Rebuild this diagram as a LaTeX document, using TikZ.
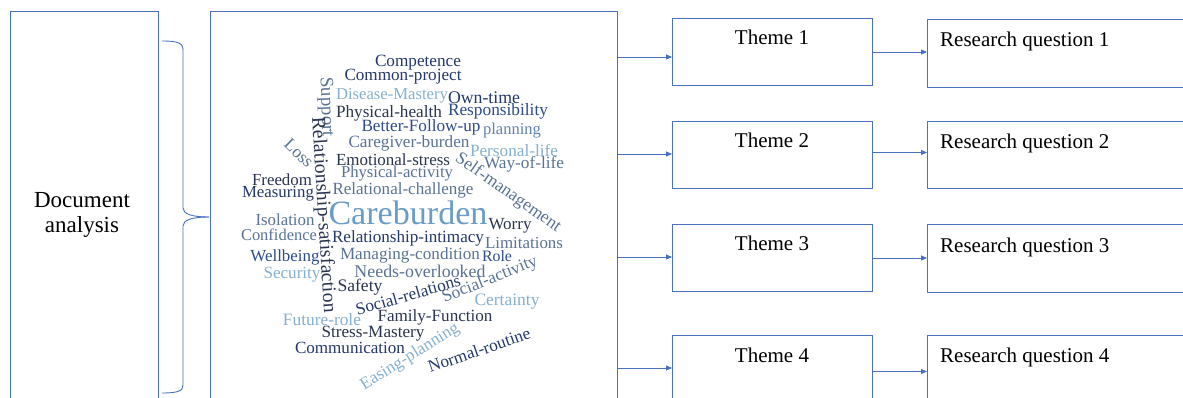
\documentclass[tikz,border=0pt]{standalone}
\usepackage{fontspec}
\setmainfont{Liberation Serif}
\usepackage{graphicx}
\usetikzlibrary{arrows.meta}
\definecolor{bl}{HTML}{4A70C0}
\definecolor{cN}{HTML}{24386A}
\definecolor{cD}{HTML}{2A3550}
\definecolor{cB}{HTML}{2E4B8A}
\definecolor{cM}{HTML}{5A7395}
\definecolor{cMM}{HTML}{6282AD}
\definecolor{cL}{HTML}{86B0D0}
\definecolor{cC}{HTML}{6A9CC6}
\tikzset{
  box/.style={draw=bl, line width=0.9pt, rectangle, inner sep=0pt, outer sep=0pt},
  arr/.style={draw=bl, line width=0.9pt, -{Triangle[length=6pt,width=5pt]}},
  brc/.style={draw=bl, line width=0.9pt},
  lab/.style={font=\fontsize{21}{25}\selectfont, text=black, inner sep=0pt},
  wc/.style={inner sep=0pt, font=\fontsize{17}{20}\selectfont}
}
\newcommand\cw[6]{\node[wc,text=#4,rotate=#3] (#1) at (#2) {\resizebox{#5pt}{!}{#6}};}
\begin{document}
\begin{tikzpicture}[x=1pt,y=-1pt]
\clip (0,0) rectangle (1183,398);
\fill[white] (0,0) rectangle (1183,398);
% left box
\node[box, minimum width=148pt, minimum height=420pt, anchor=north west] (doc) at (10,11) {};
\node[font=\fontsize{23}{25}\selectfont, align=center, inner sep=0pt] (doctxt) at (82,215) {Document\\analysis};
% brace
\coordinate (bt) at (162,41);
\coordinate (bb) at (162,393);
\coordinate (btip) at (209,217);
\draw[brc] (bt) .. controls (178,41) and (183,43) .. (183,50) -- (183,208) .. controls (183,214) and (192,217) .. (btip);
\draw[brc] (btip) .. controls (192,217) and (183,220) .. (183,226) -- (183,385) .. controls (183,391) and (178,393) .. (bb);
% cloud box
\node[box, minimum width=407pt, minimum height=420pt, anchor=north west] (cloud) at (210,11) {};
% theme boxes
\node[box, minimum width=200pt, minimum height=67pt, anchor=north west] (t1) at (672,18) {};
\node[box, minimum width=200pt, minimum height=67pt, anchor=north west] (t2) at (672,121) {};
\node[box, minimum width=200pt, minimum height=67pt, anchor=north west] (t3) at (672,224) {};
\node[box, minimum width=200pt, minimum height=67pt, anchor=north west] (t4) at (672,335) {};
\node[box, minimum width=280pt, minimum height=67.5pt, anchor=north west] (r1) at (927,19.5) {};
\node[box, minimum width=280pt, minimum height=67.5pt, anchor=north west] (r2) at (927,121) {};
\node[box, minimum width=280pt, minimum height=67.5pt, anchor=north west] (r3) at (927,224.5) {};
\node[box, minimum width=280pt, minimum height=67.5pt, anchor=north west] (r4) at (927,335) {};
\foreach \i in {1,2,3,4}{
  \node[lab, anchor=base] (t\i l) at ([yshift=-27pt]t\i.north) {Theme \i};
  \node[lab, anchor=base west] (r\i l) at ([xshift=13pt,yshift=-27.5pt]r\i.north west) {Research question \i};
}
% arrows
\coordinate (a1) at (617,57);
\coordinate (a2) at (617,154);
\coordinate (a3) at (617,257);
\coordinate (a4) at (617,368);
\foreach \i in {1,2,3,4}{\draw[arr] (a\i) -- (a\i -| t\i.west);}
\draw[arr] (t1.east |- 0,52) -- (r1.west |- 0,52);
\draw[arr] (t2.east |- 0,152.5) -- (r2.west |- 0,152.5);
\draw[arr] (t3.east |- 0,258) -- (r3.west |- 0,258);
\draw[arr] (t4.east |- 0,371.5) -- (r4.west |- 0,371.5);
% word cloud
\cw{w1}{418,63}{0}{cN}{86}{Competence}
\cw{w2}{403,77}{0}{cN}{117}{Common-project}
\cw{w3}{392,96}{0}{cL}{112}{Disease-Mastery}
\cw{w4}{484,98}{0}{cN}{72}{Own-time}
\cw{w5}{389,113}{0}{cD}{106}{Physical-health}
\cw{w6}{498,111}{0}{cB}{100}{Responsibility}
\cw{w7}{421,127}{0}{cB}{119}{Better-Follow-up}
\cw{w8}{512,131}{0}{cMM}{58}{planning}
\cw{w9}{409,143}{0}{cM}{121}{Caregiver-burden}
\cw{w10}{514,151}{0}{cL}{88}{Personal-life}
\cw{w11}{393,160}{0}{cD}{114}{Emotional-stress}
\cw{w12}{524,164}{0}{cM}{80}{Way-of-life}
\cw{w13}{508,193}{-35}{cM}{125}{Self-management}
\cw{w14}{397,174}{0}{cM}{112}{Physical-activity}
\cw{w15}{403,190}{0}{cM}{141}{Relational-challenge}
\cw{w16}{282,180}{0}{cD}{60}{Freedom}
\cw{w17}{278,194}{0}{cN}{72}{Measuring}
\cw{w18}{408,213}{0}{cC}{159}{Careburden}
\cw{w19}{510,226}{0}{cD}{43}{Worry}
\cw{w20}{285,220}{0}{cM}{59}{Isolation}
\cw{w21}{279,235}{0}{cM}{76}{Confidence}
\cw{w22}{408,238}{0}{cN}{152}{Relationship-intimacy}
\cw{w23}{524,243}{0}{cM}{78}{Limitations}
\cw{w24}{285,257}{0}{cB}{69}{Wellbeing}
\cw{w25}{410,255}{0}{cM}{140}{Managing-condition}
\cw{w26}{497,256}{0}{cB}{30}{Role}
\cw{w27}{292,275}{0}{cL}{57}{Security}
\cw{w28}{420,271}{0}{cM}{131}{Needs-overlooked}
\cw{w29}{490,280}{22}{cM}{101}{Social-activity}
\cw{w30}{360,287}{0}{cD}{45}{Safety}
\cw{w31}{408,295}{16}{cN}{108}{Social-relations}
\cw{w32}{507,302}{0}{cL}{65}{Certainty}
\cw{w33}{322,320}{0}{cL}{78}{Future-role}
\cw{w34}{435,317}{0}{cD}{115}{Family-Function}
\cw{w35}{373,334}{0}{cD}{103}{Stress-Mastery}
\cw{w36}{350,348}{0}{cN}{110}{Communication}
\cw{w37}{410,357}{32}{cL}{113}{Easing-planning}
\cw{w38}{479,350}{19}{cN}{107}{Normal-routine}
\cw{w39}{326,107}{-88}{cM}{60}{Support}
\cw{w40}{323,215}{-86.5}{cD}{196}{Relationship-satisfaction}
\cw{w41}{299,153}{-44}{cM}{33}{Loss}
\end{tikzpicture}
\end{document}
